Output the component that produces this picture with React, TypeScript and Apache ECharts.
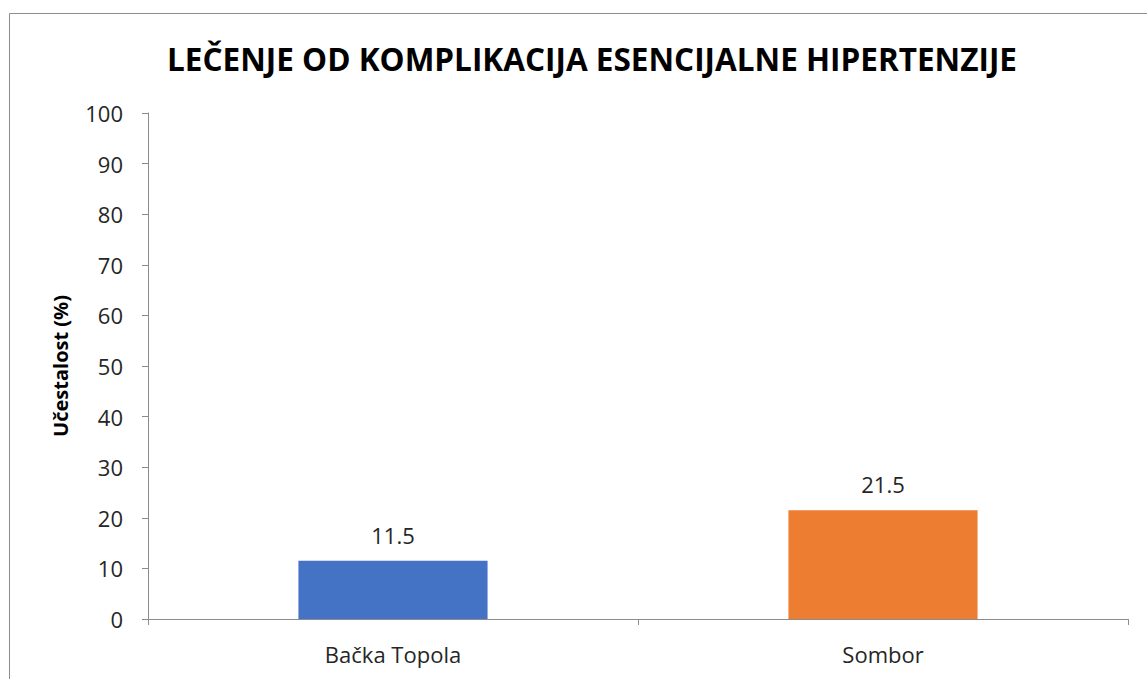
import React, { useEffect, useRef } from "react";
import * as echarts from "echarts";

const categories = ["Bačka Topola", "Sombor"];
const values = [11.5, 21.5];
const barColors = ["#4472C4", "#ED7D31"];
const titleText = "LEČENJE OD KOMPLIKACIJA ESENCIJALNE HIPERTENZIJE";
const yAxisName = "Učestalost (%)";

export default function App() {
  const ref = useRef<HTMLDivElement>(null);
  useEffect(() => {
    if (!ref.current) return;
    const chart = echarts.init(ref.current, null, { renderer: "svg" });
    const font = "'Open Sans', 'Noto Sans', sans-serif";
    chart.setOption({
      animation: false,
      backgroundColor: "#ffffff",
      textStyle: { fontFamily: font },
      title: {
        text: titleText,
        left: 587,
        top: 37,
        textAlign: "center",
        textStyle: { fontFamily: font, fontSize: 31.5, fontWeight: "bold", color: "#000000" },
      },
      graphic: [
        {
          type: "rect",
          shape: { x: 9.5, y: 13.5, width: 1200, height: 700 },
          style: { fill: "none", stroke: "#8c8c8c", lineWidth: 1 },
          silent: true,
          z: -1,
        },
      ],
      grid: { left: 148, top: 113, right: 19, bottom: 60, containLabel: false },
      xAxis: {
        type: "category",
        data: categories,
        axisLine: { lineStyle: { color: "#8c8c8c", width: 1 } },
        axisTick: { show: true, alignWithLabel: false, length: 6, lineStyle: { color: "#8c8c8c" } },
        axisLabel: { color: "#262626", fontSize: 22, margin: 24, fontFamily: font },
      },
      yAxis: {
        type: "value",
        min: 0,
        max: 100,
        interval: 10,
        name: yAxisName,
        nameLocation: "middle",
        nameGap: 78,
        nameRotate: 90,
        nameTextStyle: { fontSize: 20, fontWeight: "bold", color: "#000000", fontFamily: font },
        axisLine: { show: true, lineStyle: { color: "#8c8c8c", width: 1 } },
        axisTick: { show: true, length: 6, lineStyle: { color: "#8c8c8c" } },
        splitLine: { show: false },
        axisLabel: { color: "#262626", fontSize: 22, margin: 25, fontFamily: font },
      },
      series: [
        {
          type: "bar",
          barWidth: "38.6%",
          data: values.map((v, i) => ({ value: v, itemStyle: { color: barColors[i] } })),
          label: {
            show: true,
            position: "top",
            distance: 15,
            color: "#262626",
            fontSize: 22,
            fontFamily: font,
            formatter: (p: any) => String(p.value),
          },
        },
      ],
    });
    return () => chart.dispose();
  }, []);
  return (
    <div
      ref={ref}
      style={{ position: "fixed", left: 0, top: 0, width: 1147, height: 679, background: "#fff" }}
    />
  );
}
